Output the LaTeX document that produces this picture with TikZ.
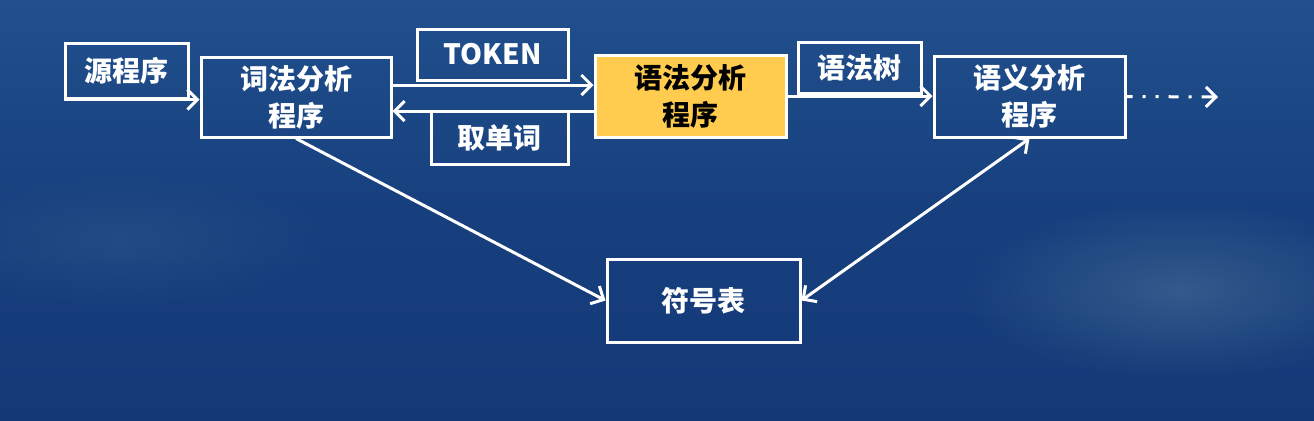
\documentclass[tikz,border=0pt]{standalone}
\usepackage{fontspec}
\newfontfamily\cjk{Noto Sans CJK SC}
\usetikzlibrary{arrows.meta,fadings}
\definecolor{bgtop}{HTML}{21508D}
\definecolor{bgmid}{HTML}{173F7E}
\definecolor{bgbot}{HTML}{143977}
\definecolor{glow}{HTML}{3A6290}
\definecolor{boxyel}{HTML}{FFCC4F}
\tikzfading[name=softglow, inner color=transparent!0, outer color=transparent!100]
\tikzset{
  box/.style={draw=white, line width=1.5pt, inner sep=0pt, align=center,
    text=white, font=\cjk\bfseries\fontsize{14pt}{18.5pt}\selectfont},
  hot/.style={box, fill=boxyel, text=black},
  arr/.style={draw=white, line width=1.5pt,
    -{Straight Barb[length=5pt,width=10pt,line width=1.5pt]}},
  darr/.style={arr, {Straight Barb[length=5pt,width=10pt,line width=1.5pt]}-{Straight Barb[length=5pt,width=10pt,line width=1.5pt]}},
  dotarr/.style={arr, dash pattern=on 3pt off 5pt on 1.5pt off 5pt on 1.5pt off 5pt on 5pt off 5pt on 1.5pt off 5pt on 10pt}
}
\begin{document}
\begin{tikzpicture}[x=0.5pt,y=-0.5pt]
\useasboundingbox (0,0) rectangle (1314,420);
% background
\begin{scope}
\clip (0,0) rectangle (1314,420);
\shade[top color=bgtop, bottom color=bgbot, middle color=bgmid] (0,0) rectangle (1314,420);
\fill[glow, path fading=softglow, opacity=0.8] (1180,290) ellipse [x radius=220, y radius=90];
\fill[glow, path fading=softglow, opacity=0.35] (120,240) ellipse [x radius=220, y radius=70];
\end{scope}

% nodes
\node[box, minimum width=61.5pt, minimum height=27.5pt] (src) at (126.5,70.5) {源程序};
\node[box, minimum width=95pt, minimum height=40pt] (lex) at (296,97) {词法分析\\程序};
\node[box, minimum width=75.5pt, minimum height=25.5pt] (token) at (492.5,54.5) {TOKEN};
\node[box, minimum width=68.5pt, minimum height=26.5pt] (take) at (499.5,137.5) {取单词};
\node[hot, minimum width=95.5pt, minimum height=41pt] (syn) at (690.5,96) {语法分析\\程序};
\node[box, minimum width=61.5pt, minimum height=25.5pt] (tree) at (859.5,67.5) {语法树};
\node[box, minimum width=95.5pt, minimum height=40.5pt] (sem) at (1029.5,96.5) {语义分析\\程序};
\node[box, minimum width=96.5pt, minimum height=41.5pt] (sym) at (703.5,300.5) {符号表};
\coordinate (more) at (1218,97);

% connectors
\draw[arr] (src.south west) -- (src.south west -| lex.west);
\draw[arr] ([yshift=6pt]lex.east) -- ([yshift=6pt]lex.east -| syn.west);
\draw[arr] ([yshift=-7.5pt]syn.west) -- ([yshift=-7.5pt]syn.west -| lex.east);
\draw[arr] (syn.east) -- (syn.east -| sem.west);
\draw[dotarr] (sem.east) -- (more);
\draw[arr] (lex.south) -- (sym.west);
\draw[darr] (sem.south) -- (sym.east);
\end{tikzpicture}
\end{document}
